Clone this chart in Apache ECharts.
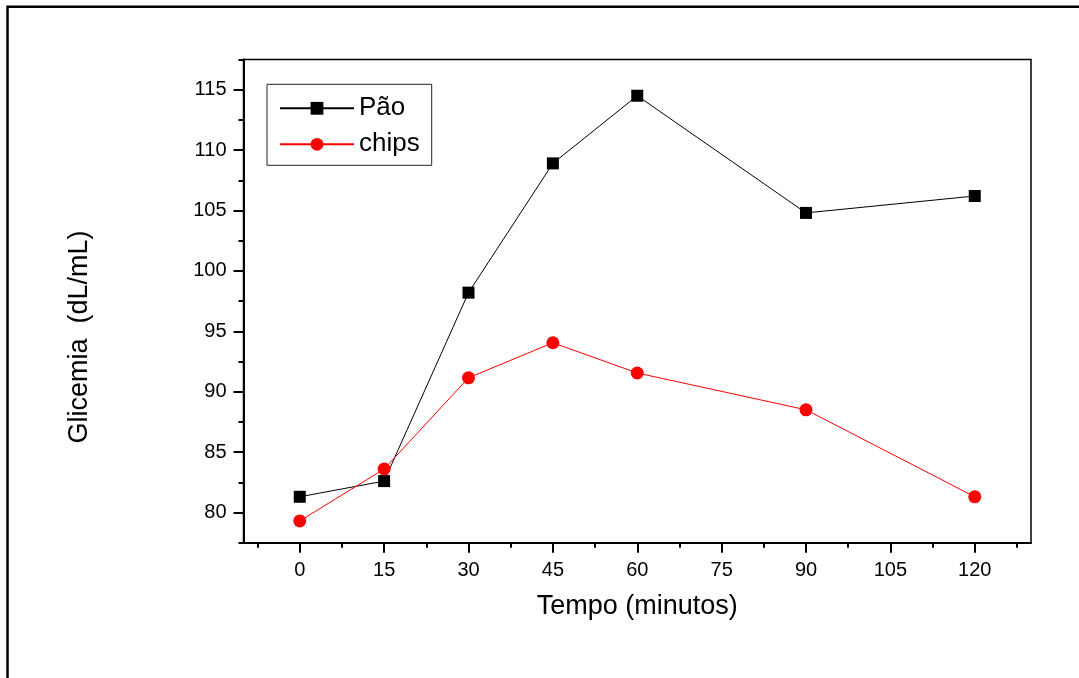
<!DOCTYPE html>
<html>
<head>
<meta charset="utf-8">
<script src="https://cdn.jsdelivr.net/npm/echarts@6/dist/echarts.min.js"></script>
<style>
html,body{margin:0;padding:0;background:#fff;}
#chart{width:1079px;height:678px;}
</style>
</head>
<body>
<div id="chart"></div>
<script>
const tempo = [0, 15, 30, 45, 60, 90, 120];
const pao = [81.3, 82.6, 98.2, 108.9, 114.5, 104.8, 106.2];
const chips = [79.3, 83.6, 91.15, 94.05, 91.55, 88.5, 81.3];
const xMajor = [0, 15, 30, 45, 60, 75, 90, 105, 120];
const xMinor = [-7.5, 7.5, 22.5, 37.5, 52.5, 67.5, 82.5, 97.5, 112.5, 127.5];
const yMajor = [80, 85, 90, 95, 100, 105, 110, 115];
const yMinor = [77.5, 82.5, 87.5, 92.5, 97.5, 102.5, 107.5, 112.5, 117.5];
const seriesNames = ['Pão', 'chips'];
const xTitle = 'Tempo (minutos)';
const yTitle = 'Glicemia  (dL/mL)';

const FONT = "'Liberation Sans', Arial, sans-serif";
const chart = echarts.init(document.getElementById('chart'), null, {renderer: 'canvas'});

const xBase = {type: 'value', min: -10, max: 130, gridIndex: 0, splitLine: {show: false}};
const yBase = {type: 'value', min: 77.5, max: 117.5, gridIndex: 0, splitLine: {show: false}};

chart.setOption({
  animation: false,
  backgroundColor: '#fff',
  grid: {left: 243.5, right: 48, top: 59.5, bottom: 135.3, show: true, borderColor: '#000', borderWidth: 1.5, backgroundColor: 'transparent'},
  legend: {
    left: 267, top: 84.3,
    orient: 'vertical',
    data: seriesNames,
    itemWidth: 74, itemHeight: 16, itemGap: 10,
    padding: [11, 12, 8, 12],
    borderColor: '#222', borderWidth: 1,
    textStyle: {fontFamily: FONT, fontSize: 26, color: '#000'}
  },
  xAxis: [
    Object.assign({}, xBase, {
      position: 'bottom',
      axisLine: {show: true, onZero: false, lineStyle: {color: '#000', width: 2}},
      axisTick: {show: true, customValues: xMajor, length: 10, lineStyle: {color: '#000', width: 2}},
      axisLabel: {show: true, customValues: xMajor, margin: 18, color: '#000', fontFamily: FONT, fontSize: 20},
      name: xTitle, nameLocation: 'middle', nameGap: 50,
      nameTextStyle: {fontFamily: FONT, fontSize: 27, color: '#000'}
    }),
    Object.assign({}, xBase, {
      position: 'bottom',
      axisLine: {show: false, onZero: false},
      axisTick: {show: true, customValues: xMinor, length: 5, lineStyle: {color: '#000', width: 2}},
      axisLabel: {show: false}
    })
  ],
  yAxis: [
    Object.assign({}, yBase, {
      position: 'left',
      axisLine: {show: true, onZero: false, lineStyle: {color: '#000', width: 2}},
      axisTick: {show: true, customValues: yMajor, length: 10, lineStyle: {color: '#000', width: 2}},
      axisLabel: {show: true, customValues: yMajor, margin: 17, color: '#000', fontFamily: FONT, fontSize: 20}
    }),
    Object.assign({}, yBase, {
      position: 'left',
      axisLine: {show: false, onZero: false},
      axisTick: {show: true, customValues: yMinor, length: 5, lineStyle: {color: '#000', width: 2}},
      axisLabel: {show: false}
    })
  ],
  series: [
    {
      name: seriesNames[0], type: 'line', xAxisIndex: 0, yAxisIndex: 0,
      data: tempo.map((t, i) => [t, pao[i]]),
      symbol: 'rect', symbolSize: 12,
      itemStyle: {color: '#000'},
      lineStyle: {color: '#000', width: 1}
    },
    {
      name: seriesNames[1], type: 'line', xAxisIndex: 0, yAxisIndex: 0,
      data: tempo.map((t, i) => [t, chips[i]]),
      symbol: 'circle', symbolSize: 13,
      itemStyle: {color: '#ff0000'},
      lineStyle: {color: '#ff0000', width: 1}
    }
  ],
  graphic: [
    {type: 'polyline', shape: {points: [[7.5, 680], [7.5, 6.8], [1082, 6.8]]}, style: {stroke: '#000', lineWidth: 2.5, fill: null}, silent: true},
    {type: 'text', x: 80, y: 337, rotation: Math.PI / 2,
      style: {text: yTitle, fontFamily: FONT, fontSize: 27, fill: '#000', align: 'center', verticalAlign: 'middle'}}
  ]
});
</script>
</body>
</html>
